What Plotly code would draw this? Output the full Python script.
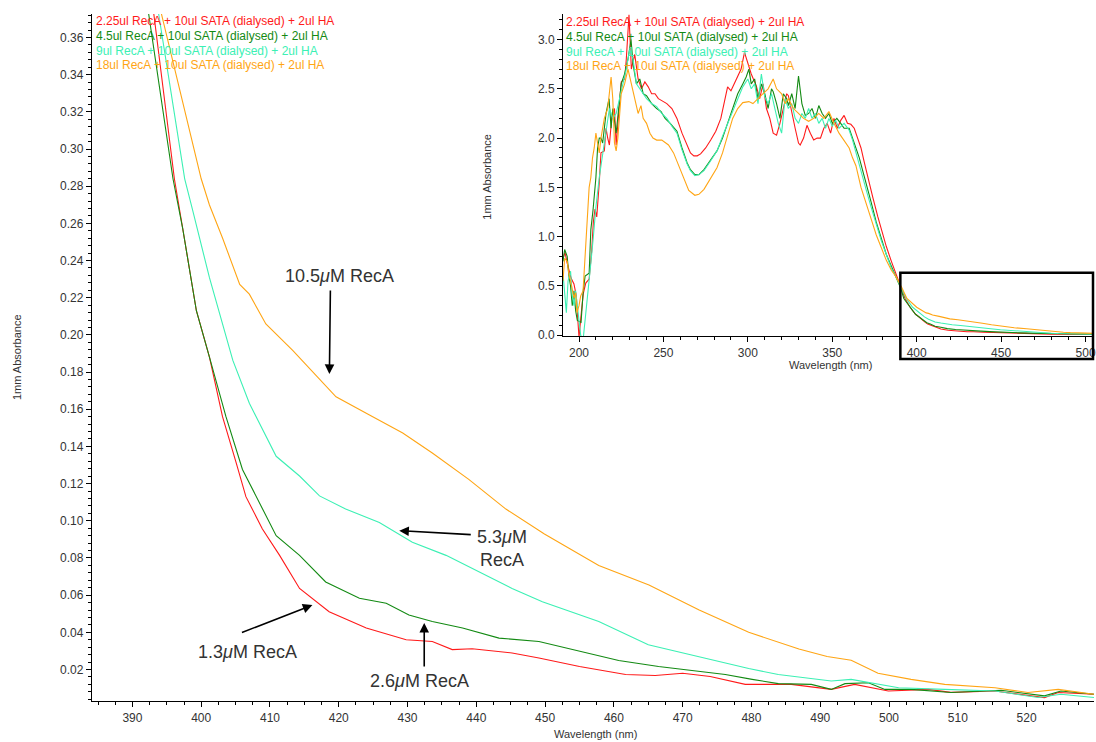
import plotly.graph_objects as go

W, H = 1096, 742

series_names = [
    "2.25ul RecA + 10ul SATA (dialysed) + 2ul HA",
    "4.5ul RecA + 10ul SATA (dialysed) + 2ul HA",
    "9ul RecA + 10ul SATA (dialysed) + 2ul HA",
    "18ul RecA + 10ul SATA (dialysed) + 2ul HA",
]
series_colors = ["#ff1a1a", "#138a13", "#3cf0b4", "#ffa514"]

# ---- 2.25ul (red) ----
wl_red = [190.5, 191.7, 192.9, 194, 195.3, 197, 198.4, 199.2, 200, 201.5, 202.5, 204, 206, 207.5, 208.5,
          209.5, 210.5, 212, 213, 215, 216, 217, 218, 219.5, 221, 222, 224, 225, 227, 228, 229.6, 231,
          233, 235, 237, 239, 241, 243, 245, 247, 249, 252, 255, 258, 261, 264, 266, 268, 270, 272, 275,
          278, 281, 284, 286, 288, 290, 292, 294, 296, 298, 300, 302, 305, 307, 309, 311, 313, 315, 317,
          319, 321, 323, 324, 326, 328, 330, 331, 333, 335, 337, 339, 341, 343, 345, 347, 349, 351, 353,
          355, 357, 359, 361, 363, 365, 367, 369, 371, 374, 377, 380, 382, 385, 387.5, 390.5, 393.1,
          396.1, 397.3, 399.3, 401.2, 403.1, 405.1, 406.5, 408.9, 411.4, 414.3, 418.6, 424.0, 429.8,
          433.6, 436.5, 439.4, 445.2, 449.1, 455, 461.7, 466, 470, 474, 479.1, 485.8, 491.6, 495, 499.9,
          505.7, 509, 515.4, 522.6, 524.6, 529.8]
abs_red = [0.78, 0.84, 0.74, 0.66, 0.58, 0.52, 0.40, 0.18, -0.02, 0.25, 0.42, 0.53, 0.57, 0.85, 1.15,
           1.28, 1.20, 1.55, 1.85, 1.87, 2.10, 2.00, 1.93, 2.23, 2.30, 1.93, 2.40, 2.57, 2.60, 2.80, 3.25, 2.70,
           2.85, 2.60, 2.50, 2.57, 2.52, 2.45, 2.45, 2.40, 2.38, 2.35, 2.30, 2.20, 2.05, 1.92, 1.85, 1.82, 1.82,
           1.84, 1.90, 1.98, 2.07, 2.20, 2.35, 2.52, 2.48, 2.55, 2.62, 2.70, 2.87, 2.75, 2.65, 2.53, 2.40,
           2.55, 2.30, 2.20, 2.05, 2.03, 2.15, 2.30, 2.45, 2.43, 2.25, 2.10, 1.95, 1.93, 2.00, 2.13, 2.05, 1.98,
           2.00, 2.00, 2.10, 2.15, 2.05, 2.20, 2.10, 2.18, 2.23, 2.15, 2.14, 2.10, 2.00, 1.90, 1.75, 1.60,
           1.40, 1.20, 1.02, 0.90, 0.75, 0.63, 0.50, 0.373, 0.284, 0.2575, 0.213, 0.188, 0.156, 0.131,
           0.113, 0.0956, 0.0814, 0.0636, 0.0511, 0.0423, 0.036, 0.0351, 0.0307, 0.0312, 0.0289, 0.0262,
           0.0216, 0.0173, 0.0168, 0.0180, 0.0162, 0.012, 0.012, 0.0093, 0.012, 0.0084, 0.0093, 0.0077,
           0.0084, 0.0049, 0.0076, 0.0067]

# ---- 4.5ul (green) ----
wl_green = [190.5, 191.5, 193, 194, 195, 196, 197, 198, 199, 201.2, 202.5, 203.6, 206, 207, 208.3, 210,
            211, 212, 213, 214, 216, 217.8, 219, 220, 222, 224, 225, 227, 229, 230.8, 232, 234, 236, 238,
            240, 243, 246, 248.5, 251, 254, 258, 261, 264, 266, 268.6, 271, 274, 278, 281.7, 285, 288,
            291, 294, 297, 299, 300.6, 302, 304, 306, 308, 310, 312, 314, 315, 317, 319, 321, 323, 324,
            326, 328, 330, 332, 334, 336, 338, 340, 342, 344, 346, 348, 350, 352.7, 355, 357, 360, 362,
            364, 366, 368, 370, 373, 376, 379, 382, 385, 387.5, 390.5, 392.35, 395.9, 397.3, 399.3, 401.2,
            403.6, 406.0, 408.0, 408.9, 410.9, 414.3, 418.1, 423.0, 426.9, 430.2, 433.6, 438.0, 443.3,
            449.1, 454.9, 460.7, 466.5, 472.4, 476.2, 480.1, 483.9, 488.7, 491.6, 493.6, 497, 499.4, 503.2,
            509, 516.3, 522.6, 525, 529.8]
abs_green = [0.75, 0.87, 0.80, 0.60, 0.50, 0.30, 0.45, 0.25, 0.15, 0.13, 0.45, 0.60, 0.63, 1.07, 1.27, 1.60,
             1.90, 2.00, 2.00, 1.95, 2.25, 2.40, 2.10, 2.30, 2.05, 2.40, 2.55, 2.65, 2.80, 3.00, 2.75, 2.55,
             2.60, 2.45, 2.43, 2.35, 2.30, 2.27, 2.20, 2.15, 2.07, 1.90, 1.75, 1.68, 1.63, 1.63, 1.68, 1.78,
             1.87, 2.00, 2.15, 2.30, 2.45, 2.55, 2.62, 2.70, 2.55, 2.60, 2.40, 2.55, 2.45, 2.30, 2.50, 2.47,
             2.35, 2.20, 2.45, 2.40, 2.33, 2.45, 2.30, 2.63, 2.35, 2.23, 2.25, 2.30, 2.20, 2.33, 2.25, 2.20,
             2.25, 2.15, 2.20, 2.15, 2.10, 2.10, 2.00, 1.90, 1.80, 1.67, 1.55, 1.35, 1.15, 0.98, 0.82, 0.70,
             0.60, 0.48, 0.373, 0.284, 0.2575, 0.213, 0.188, 0.156, 0.1276, 0.1134, 0.1063, 0.092, 0.0814,
             0.0671, 0.0583, 0.0556, 0.0493, 0.0458, 0.0423, 0.0369, 0.0351, 0.0301, 0.0248, 0.0216, 0.019,
             0.0173, 0.0147, 0.0124, 0.012, 0.0093, 0.0124, 0.0129, 0.0093, 0.0093, 0.0076, 0.0088, 0.0058,
             0.0084, 0.0067]

# ---- 9ul (aquamarine) ----
wl_cyan = [190.5, 191.5, 192.5, 193.5, 195, 196, 197, 198, 199, 200, 201, 202.4, 204, 206, 207, 208.5,
           210, 212, 214, 216, 218, 220, 222, 224, 226, 228, 230, 232, 234, 236, 238, 240, 243, 246, 249,
           252, 255, 258, 261, 264, 266, 268.6, 271, 274, 278, 282, 285, 288, 291, 294, 297, 300, 302,
           304, 306, 308, 310, 312, 314, 316, 318, 320, 322, 324, 326, 328, 330, 332, 334, 336, 338, 340,
           342, 344, 346, 348, 350, 352, 354, 357, 360, 362, 364, 366, 368, 370, 373, 376, 379, 382, 385,
           387.5, 391, 393.8, 397.6, 398.8, 401.2, 404.6, 407.0, 410.9, 414.3, 417.2, 421.0, 425.9, 430.7,
           435.6, 440.4, 445.2, 449.6, 457.8, 465, 472.4, 479.6, 483.9, 491.6, 494.5, 497.4, 501.4, 508.1,
           515.4, 521.7, 525, 529.8]
abs_cyan = [0.63, 0.40, 0.23, 0.55, 0.65, 0.40, 0.30, 0.45, 0.30, 0.10, 0.00, -0.05, 0.20, 0.55, 0.73,
            1.00, 1.30, 1.60, 1.85, 2.05, 2.30, 2.20, 2.25, 2.40, 2.55, 2.70, 2.90, 2.80, 2.55, 2.50, 2.45,
            2.40, 2.35, 2.32, 2.25, 2.20, 2.12, 2.05, 1.88, 1.74, 1.67, 1.62, 1.63, 1.67, 1.77, 1.88, 2.02,
            2.15, 2.28, 2.40, 2.52, 2.60, 2.50, 2.55, 2.35, 2.65, 2.42, 2.35, 2.45, 2.30, 2.15, 2.05, 2.40,
            2.30, 2.35, 2.20, 2.15, 2.25, 2.20, 2.30, 2.20, 2.25, 2.15, 2.20, 2.10, 2.20, 2.12, 2.18, 2.10,
            2.15, 2.08, 1.98, 1.85, 1.72, 1.60, 1.48, 1.30, 1.12, 0.96, 0.82, 0.68, 0.60, 0.48, 0.373, 0.284,
            0.2664, 0.2308, 0.1863, 0.1632, 0.1347, 0.1241, 0.1134, 0.1063, 0.0991, 0.0885, 0.0814, 0.0725,
            0.0636, 0.0564, 0.0458, 0.0333, 0.027, 0.0205, 0.0173, 0.0138, 0.0147, 0.0129, 0.0102, 0.0093,
            0.0084, 0.0049, 0.0067, 0.0049]

# ---- 18ul (orange) ----
wl_orange = [190.5, 191.5, 193, 194, 195, 196, 197, 198, 198.8, 200, 201, 202.4, 203.5, 204.7, 206, 207,
             208, 209, 210, 211, 212, 213, 215, 217, 219, 220, 221, 222, 223, 225, 227, 229, 231, 233, 235,
             236.7, 238, 240, 242, 243.8, 246, 249, 253, 256, 259, 262, 265, 268.6, 271, 274, 278, 281.7,
             285, 288, 291, 294, 297, 300.6, 303, 306, 309, 312, 315, 317, 320, 322, 324, 327, 330, 333,
             336, 339, 342, 345, 348, 351, 354, 357, 360, 362, 364, 367, 370, 373, 376, 379, 382, 385,
             387.5, 391, 394.2, 400.0, 401.2, 403.1, 405.6, 407.0, 409.4, 413.3, 419.6, 424.4, 429.3,
             433.6, 438.9, 444.3, 449.9, 457.8, 465.1, 472.4, 479.6, 486.9, 491, 494.5, 498.4, 503.2,
             508.1, 515.4, 520.2, 524.6, 529.8]
abs_orange = [0.55, 0.78, 0.75, 0.62, 0.55, 0.45, 0.38, 0.43, 0.23, 0.30, 0.40, 0.45, 0.80, 1.07, 1.50,
              1.60, 1.80, 1.90, 2.05, 1.95, 1.85, 2.00, 2.20, 2.30, 2.62, 2.40, 1.95, 1.87, 2.00, 2.45, 2.55,
              2.70, 2.55, 2.40, 2.25, 2.33, 2.20, 2.15, 2.05, 2.00, 1.98, 1.98, 1.93, 1.85, 1.72, 1.58, 1.47,
              1.42, 1.43, 1.48, 1.60, 1.70, 1.85, 2.02, 2.20, 2.30, 2.36, 2.37, 2.35, 2.40, 2.45, 2.50, 2.60,
              2.50, 2.45, 2.35, 2.40, 2.30, 2.25, 2.20, 2.17, 2.20, 2.25, 2.20, 2.27, 2.15, 2.05, 1.97, 1.90,
              1.80, 1.72, 1.50, 1.35, 1.18, 1.02, 0.88, 0.76, 0.66, 0.60, 0.49, 0.373, 0.284, 0.2699, 0.2521,
              0.2272, 0.2219, 0.2059, 0.1917, 0.1667, 0.157, 0.1472, 0.1365, 0.1223, 0.1063, 0.0929, 0.076,
              0.0654, 0.052, 0.040, 0.031, 0.027, 0.025, 0.018, 0.0147, 0.012, 0.0102, 0.0076, 0.0093, 0.0067]

all_wl = [wl_red, wl_green, wl_cyan, wl_orange]
all_abs = [abs_red, abs_green, abs_cyan, abs_orange]

main_yticks = [0.02, 0.04, 0.06, 0.08, 0.10, 0.12, 0.14, 0.16, 0.18, 0.20, 0.22, 0.24, 0.26, 0.28, 0.30,
               0.32, 0.34, 0.36]
main_xticks = [390, 400, 410, 420, 430, 440, 450, 460, 470, 480, 490, 500, 510, 520]
inset_yticks = [0.0, 0.5, 1.0, 1.5, 2.0, 2.5, 3.0]
inset_xticks = [200, 250, 300, 350, 400, 450, 500]

annot_labels = ["1.3<i>μ</i>M RecA", "2.6<i>μ</i>M RecA", "5.3<i>μ</i>M<br>RecA", "10.5<i>μ</i>M RecA"]

# ---------------------------------------------------------------
def px(x):
    return x / W

def py(y):
    return 1 - y / H

fig = go.Figure()
for wl, ab, c, n in zip(all_wl, all_abs, series_colors, series_names):
    fig.add_trace(go.Scatter(x=wl, y=ab, mode="lines", line=dict(color=c, width=1.1),
                             name=n, xaxis="x", yaxis="y", showlegend=False))
for wl, ab, c, n in zip(all_wl, all_abs, series_colors, series_names):
    fig.add_trace(go.Scatter(x=wl, y=ab, mode="lines", line=dict(color=c, width=1.1),
                             name=n, xaxis="x2", yaxis="y2", showlegend=False))

FONT = "Liberation Sans, Arial, sans-serif"
tickfont = dict(family=FONT, size=12, color="#333333")

axis_common = dict(showline=True, linecolor="black", linewidth=1, ticks="outside", ticklen=5,
                   tickcolor="black", showgrid=False, zeroline=False, tickfont=tickfont,
                   ticklabeloverflow="allow")

fig.update_layout(
    width=W, height=H, margin=dict(l=0, r=0, t=0, b=0),
    paper_bgcolor="white", plot_bgcolor="rgba(0,0,0,0)",
    xaxis=dict(domain=[px(92), 1.0], range=[384.1, 529.8], tickvals=main_xticks,
               minor=dict(dtick=2.5, tick0=390, ticklen=3, ticks="outside", tickcolor="black"),
               anchor="y", **axis_common),
    yaxis=dict(domain=[py(707), py(14)], range=[0.0029, 0.3727], tickvals=main_yticks,
               tickformat=".2f",
               minor=dict(dtick=0.004, tick0=0, ticklen=3, ticks="outside", tickcolor="black"),
               anchor="x", **axis_common),
    xaxis2=dict(domain=[px(564), 1.0], range=[190.5, 505], tickvals=inset_xticks,
                minor=dict(dtick=10, tick0=200, ticklen=3, ticks="outside", tickcolor="black"),
                anchor="y2", **axis_common),
    yaxis2=dict(domain=[py(339), py(14)], range=[-0.01, 3.26], tickvals=inset_yticks,
                tickformat=".1f",
                minor=dict(dtick=0.1, tick0=0, ticklen=3, ticks="outside", tickcolor="black"),
                anchor="x2", **axis_common),
)

ann = []
title_font = dict(family=FONT, size=11, color="#333333")
# axis titles
ann.append(dict(text="1mm Absorbance", x=px(17), y=py(360), textangle=-90, font=title_font))
ann.append(dict(text="Wavelength (nm)", x=px(597), y=py(740), font=title_font))
ann.append(dict(text="1mm Absorbance", x=px(487), y=py(178), textangle=-90, font=title_font))
ann.append(dict(text="Wavelength (nm)", x=px(832), y=py(368), font=title_font))

# legends (text lists in both plots)
for i, (n, c) in enumerate(zip(series_names, series_colors)):
    ann.append(dict(text=n, x=px(94), y=py(21 + 15 * i), xanchor="left",
                    font=dict(family=FONT, size=12, color=c)))
    ann.append(dict(text=n, x=px(565), y=py(22 + 15 * i), xanchor="left",
                    font=dict(family=FONT, size=12, color=c)))

# callout texts
lab_font = dict(family=FONT, size=18, color="#333333")
ann.append(dict(text=annot_labels[0], x=px(248), y=py(657), font=lab_font))
ann.append(dict(text=annot_labels[1], x=px(420), y=py(687), font=lab_font))
ann.append(dict(text=annot_labels[2], x=px(503), y=py(553), font=lab_font, align="center"))
ann.append(dict(text=annot_labels[3], x=px(340), y=py(278), font=lab_font))

# arrows (head, tail in pixels)
arrows = [((313, 610), (241, 638)), ((425, 628), (425, 673)), ((400, 535), (473, 539)),
          ((330, 377), (331, 292))]
for (hx, hy), (tx, ty) in arrows:
    ann.append(dict(text="", x=px(hx), y=py(hy), ax=tx - hx, ay=ty - hy, showarrow=True,
                    arrowhead=2, arrowsize=1.2, arrowwidth=1.6, arrowcolor="black",
                    standoff=0, startstandoff=0))

for a in ann:
    a.setdefault("xref", "paper")
    a.setdefault("yref", "paper")
    a.setdefault("showarrow", False)
    a.setdefault("xanchor", "center")
    a.setdefault("yanchor", "middle")
fig.update_layout(annotations=ann)

fig.add_shape(type="rect", xref="paper", yref="paper", x0=px(902), x1=px(1095), y0=py(362), y1=py(275),
              line=dict(color="black", width=2.5))

fig.write_html("out.html", config={"displayModeBar": False},
               post_script="document.body.style.margin='0';document.body.style.overflow='hidden';")
